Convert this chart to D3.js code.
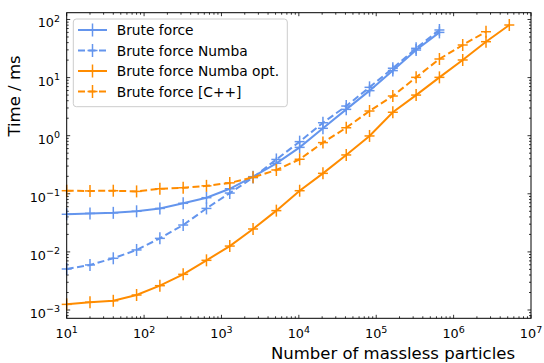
<!DOCTYPE html>
<html><head><meta charset="utf-8">
<script src="https://cdn.jsdelivr.net/npm/d3@7"></script>
<style>body{margin:0;background:#fff;} svg{display:block;font-family:"DejaVu Sans",sans-serif;}</style>
</head><body><svg id="c" width="544" height="363"></svg>
<script>
const particles = [10, 20, 40, 80, 160, 320, 640, 1280, 2560, 5120, 10240, 20480, 40960, 81920, 163840, 327680, 655360, 1310720, 2621440, 5242880];
const bruteForce = [0.0444, 0.046, 0.047, 0.050, 0.056, 0.0686, 0.0857, 0.122, 0.197, 0.335, 0.63, 1.34, 2.84, 5.96, 13.2, 29.8, 60];
const bruteForceNumba = [0.00508, 0.00596, 0.00776, 0.0108, 0.0171, 0.029, 0.056, 0.103, 0.19, 0.39, 0.79, 1.67, 3.24, 6.8, 14.5, 31.9, 66];
const bruteForceNumbaOpt = [0.00125, 0.00136, 0.00144, 0.00181, 0.00262, 0.00411, 0.00716, 0.0126, 0.0248, 0.0513, 0.113, 0.225, 0.466, 0.99, 2.53, 5.0, 10.1, 20.1, 41.5, 80.4];
const bruteForceCpp = [0.113, 0.112, 0.113, 0.110, 0.122, 0.127, 0.137, 0.154, 0.192, 0.257, 0.393, 0.76, 1.37, 2.66, 4.82, 10.1, 20.9, 36.4, 61.6];
const xTicks = [1e1, 1e2, 1e3, 1e4, 1e5, 1e6, 1e7];
const yTicks = [1e-3, 1e-2, 1e-1, 1e0, 1e1, 1e2];

const series = [
  {name: "Brute force", values: bruteForce, color: "#6495ED", dash: null},
  {name: "Brute force Numba", values: bruteForceNumba, color: "#6495ED", dash: "7,3.5"},
  {name: "Brute force Numba opt.", values: bruteForceNumbaOpt, color: "#FF8C00", dash: null},
  {name: "Brute force [C++]", values: bruteForceCpp, color: "#FF8C00", dash: "7,3.5"}
];

const L = 66.7, R = 531, T = 12.7, B = 318.3;
const svg = d3.select("#c");
const x = d3.scaleLog().domain([10, 1e7]).range([L, R]);
const y = d3.scaleLog().domain([Math.pow(10, -3.143), Math.pow(10, 2.117)]).range([B, T]);

const minorX = [], minorY = [];
for (let e = 1; e < 7; e++) for (let m = 2; m <= 9; m++) minorX.push(m * Math.pow(10, e));
for (let e = -4; e < 3; e++) for (let m = 2; m <= 9; m++) { const v = m * Math.pow(10, e); if (v >= y.domain()[0] && v <= y.domain()[1]) minorY.push(v); }

const g = svg.append("g");
function sup(sel, v) {
  const e = Math.round(Math.log10(v));
  sel.append("tspan").text("10");
  sel.append("tspan").attr("dy", -5.5).attr("font-size", 9.5).text(e < 0 ? "\u2212" + (-e) : e);
}

const tk = g.append("g").attr("stroke", "#000").attr("stroke-width", 0.8);
xTicks.forEach(v => {
  tk.append("line").attr("x1", x(v)).attr("x2", x(v)).attr("y1", B).attr("y2", B - 3.5);
  tk.append("line").attr("x1", x(v)).attr("x2", x(v)).attr("y1", T).attr("y2", T + 3.5);
});
minorX.forEach(v => {
  tk.append("line").attr("x1", x(v)).attr("x2", x(v)).attr("y1", B).attr("y2", B - 2);
  tk.append("line").attr("x1", x(v)).attr("x2", x(v)).attr("y1", T).attr("y2", T + 2);
});
yTicks.forEach(v => {
  tk.append("line").attr("y1", y(v)).attr("y2", y(v)).attr("x1", L).attr("x2", L + 3.5);
  tk.append("line").attr("y1", y(v)).attr("y2", y(v)).attr("x1", R).attr("x2", R - 3.5);
});
minorY.forEach(v => {
  tk.append("line").attr("y1", y(v)).attr("y2", y(v)).attr("x1", L).attr("x2", L + 2);
  tk.append("line").attr("y1", y(v)).attr("y2", y(v)).attr("x1", R).attr("x2", R - 2);
});

xTicks.forEach(v => {
  const t = g.append("text").attr("x", x(v)).attr("y", 338).attr("text-anchor", "middle").attr("font-size", 12.8).attr("fill", "#000");
  sup(t, v);
});
yTicks.forEach(v => {
  const t = g.append("text").attr("x", 60).attr("y", y(v) + 8).attr("text-anchor", "end").attr("font-size", 12.8).attr("fill", "#000");
  sup(t, v);
});

const line = d3.line().x(d => x(d[0])).y(d => y(d[1]));
series.forEach(s => {
  const pts = s.values.map((v, i) => [particles[i], v]);
  const sg = g.append("g");
  sg.append("path").attr("d", line(pts)).attr("fill", "none").attr("stroke", s.color)
    .attr("stroke-width", 2).attr("stroke-dasharray", s.dash);
  pts.forEach(p => {
    const px = x(p[0]), py = y(p[1]);
    sg.append("line").attr("x1", px - 5).attr("x2", px + 5).attr("y1", py).attr("y2", py).attr("stroke", s.color).attr("stroke-width", 1.5);
    sg.append("line").attr("x1", px).attr("x2", px).attr("y1", py - 6).attr("y2", py + 6).attr("stroke", s.color).attr("stroke-width", 1.5);
  });
});

g.append("rect").attr("x", L).attr("y", T).attr("width", R - L).attr("height", B - T).attr("fill", "none").attr("stroke", "#000").attr("stroke-width", 1);

const lg = g.append("g");
lg.append("rect").attr("x", 73.3).attr("y", 19).attr("width", 214).attr("height", 87.7).attr("rx", 3)
  .attr("fill", "#fff").attr("fill-opacity", 0.8).attr("stroke", "#ccc").attr("stroke-width", 1);
series.forEach((s, i) => {
  const ly = 30 + i * 20.5;
  lg.append("line").attr("x1", 78).attr("x2", 107).attr("y1", ly).attr("y2", ly).attr("stroke", s.color).attr("stroke-width", 2).attr("stroke-dasharray", s.dash);
  lg.append("line").attr("x1", 92.5).attr("x2", 92.5).attr("y1", ly - 6.5).attr("y2", ly + 6.5).attr("stroke", s.color).attr("stroke-width", 1.5);
  lg.append("line").attr("x1", 87.5).attr("x2", 97.5).attr("y1", ly).attr("y2", ly).attr("stroke", s.color).attr("stroke-width", 1.5);
  lg.append("text").attr("x", 116.7).attr("y", ly + 5).attr("font-size", 13.8).attr("fill", "#000").text(s.name);
});

g.append("text").attr("x", 515).attr("y", 359).attr("text-anchor", "end").attr("font-size", 16.5).attr("fill", "#000").text("Number of massless particles");
g.append("text").attr("transform", "translate(20,96) rotate(-90)").attr("text-anchor", "middle").attr("font-size", 16.5).attr("fill", "#000").text("Time / ms");
</script></body></html>
